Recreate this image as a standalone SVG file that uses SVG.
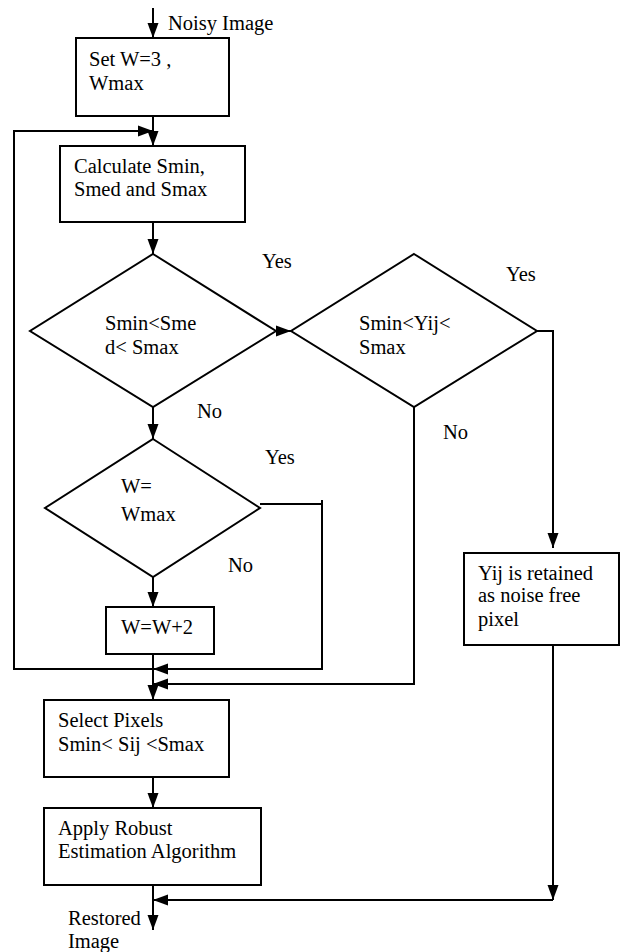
<svg xmlns="http://www.w3.org/2000/svg" width="622" height="952" viewBox="0 0 622 952">
<style>
.box{fill:#fff;stroke:#000;stroke-width:2}
.ln{fill:none;stroke:#000;stroke-width:2}
text{font-family:"Liberation Serif","Times New Roman",serif;font-size:20.5px;fill:#000}
</style>
<defs>
<marker id="ah" markerUnits="userSpaceOnUse" markerWidth="16" markerHeight="12" refX="15" refY="6" orient="auto">
<path d="M0,0.5 L15,6 L0,11.5 z" fill="#000"/>
</marker>
</defs>
<rect width="622" height="952" fill="#fff"/>
<g id="connectors">
<path class="ln" d="M153,8 L153,38" marker-end="url(#ah)"/>
<path class="ln" d="M153,116 L153,146" marker-end="url(#ah)"/>
<path class="ln" d="M153,669 L14,669 L14,131 L153,131" marker-end="url(#ah)"/>
<path class="ln" d="M153,222 L153,254" marker-end="url(#ah)"/>
<path class="ln" d="M276,331 L291,331" marker-end="url(#ah)"/>
<path class="ln" d="M153,407 L153,439" marker-end="url(#ah)"/>
<path class="ln" d="M153,577 L153,607" marker-end="url(#ah)"/>
<path class="ln" d="M260,504 L322,504 M322,500 L322,669 L153,669" marker-end="url(#ah)"/>
<path class="ln" d="M414,407 L414,684 L153,684" marker-end="url(#ah)"/>
<path class="ln" d="M153,654 L153,700" marker-end="url(#ah)"/>
<path class="ln" d="M537,331 L553,331 L553,548" marker-end="url(#ah)"/>
<path class="ln" d="M553,645 L553,900" marker-end="url(#ah)"/>
<path class="ln" d="M553,900 L153,900" marker-end="url(#ah)"/>
<path class="ln" d="M153,777 L153,808" marker-end="url(#ah)"/>
<path class="ln" d="M153,885 L153,930" marker-end="url(#ah)"/>
</g>
<g id="label-noisy"><text x="168" y="30">Noisy Image</text></g>
<g id="set-w">
<rect class="box" x="76" y="38" width="153" height="78"/>
<text x="89" y="66">Set W=3 ,</text>
<text x="89" y="90">Wmax</text>
</g>
<g id="calculate">
<rect class="box" x="60" y="146" width="185" height="76"/>
<text x="74" y="173">Calculate Smin,</text>
<text x="74" y="196">Smed and Smax</text>
</g>
<g id="decision-smed">
<polygon class="box" points="153,254 276,331 153,407 30,331"/>
<text x="105" y="330">Smin&lt;Sme</text>
<text x="105" y="354">d&lt; Smax</text>
<text x="262" y="268">Yes</text>
<text x="197" y="418">No</text>
</g>
<g id="decision-yij">
<polygon class="box" points="414,254 537,331 414,407 291,331"/>
<text x="359" y="330">Smin&lt;Yij&lt;</text>
<text x="359" y="354">Smax</text>
<text x="506" y="281">Yes</text>
<text x="443" y="439">No</text>
</g>
<g id="decision-w">
<polygon class="box" points="153,439 260,508 153,577 45,508"/>
<text x="121" y="493">W=</text>
<text x="121" y="521">Wmax</text>
<text x="265" y="464">Yes</text>
<text x="228" y="572">No</text>
</g>
<g id="w-plus-2">
<rect class="box" x="106" y="607" width="108" height="47"/>
<text x="121" y="634">W=W+2</text>
</g>
<g id="retained">
<rect class="box" x="464" y="553" width="155" height="92"/>
<text x="478" y="580">Yij is retained</text>
<text x="478" y="602">as noise free</text>
<text x="478" y="626">pixel</text>
</g>
<g id="select-pixels">
<rect class="box" x="44" y="700" width="185" height="77"/>
<text x="58" y="727">Select Pixels</text>
<text x="58" y="751">Smin&lt; Sij &lt;Smax</text>
</g>
<g id="apply-robust">
<rect class="box" x="44" y="808" width="217" height="77"/>
<text x="58" y="835">Apply Robust</text>
<text x="58" y="858">Estimation Algorithm</text>
</g>
<g id="label-restored">
<text x="68" y="925">Restored</text>
<text x="68" y="948">Image</text>
</g>
</svg>
